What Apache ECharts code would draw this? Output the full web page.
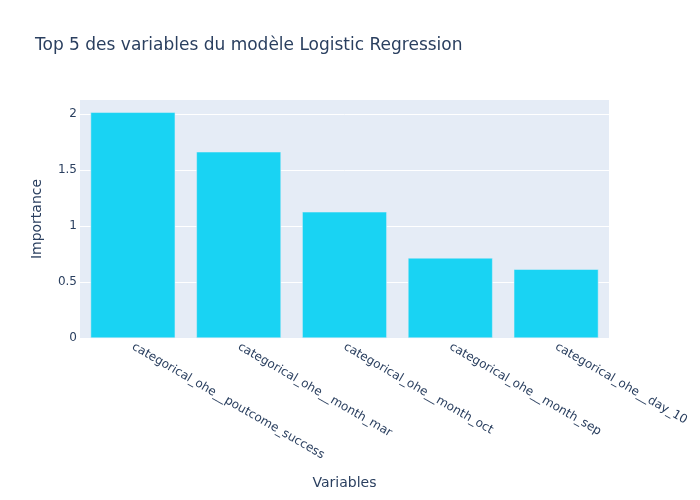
<!DOCTYPE html>
<html>
<head>
<meta charset="utf-8">
<script src="https://cdn.jsdelivr.net/npm/echarts@6/dist/echarts.min.js"></script>
<style>html,body{margin:0;padding:0;background:#fff}#c{width:700px;height:500px}</style>
</head>
<body>
<div id="c"></div>
<script>
const categories = ["categorical_ohe__poutcome_success","categorical_ohe__month_mar","categorical_ohe__month_oct","categorical_ohe__month_sep","categorical_ohe__day_10"];
const importance = [2.018, 1.665, 1.128, 0.716, 0.615];
const yTicks = [0, 0.5, 1, 1.5, 2];
const titleText = "Top 5 des variables du modèle Logistic Regression";
const font = '"DejaVu Sans", verdana, arial, sans-serif';
const chart = echarts.init(document.getElementById('c'));
chart.setOption({
  animation: false,
  backgroundColor: '#fff',
  textStyle: {fontFamily: font, color: '#2a3f5f'},
  title: {text: titleText, left: 30, top: 32, textStyle: {fontFamily: font, fontSize: 17, fontWeight: 'normal', color: '#2a3f5f'}},
  grid: {left: 80, right: 91, top: 100, bottom: 162, show: true, backgroundColor: '#E5ECF6', borderWidth: 0, containLabel: false},
  xAxis: {
    type: 'category', data: categories,
    name: 'Variables', nameLocation: 'middle', nameGap: 138,
    nameTextStyle: {fontFamily: font, fontSize: 14, color: '#2a3f5f'},
    axisLine: {show: false}, axisTick: {show: false},
    axisLabel: {rotate: -30, interval: 0, margin: 8, fontSize: 12, color: '#2a3f5f', fontFamily: font}
  },
  yAxis: {
    type: 'value', min: 0, max: 2.128, interval: 0.5,
    name: 'Importance', nameLocation: 'middle', nameGap: 36,
    nameTextStyle: {fontFamily: font, fontSize: 14, color: '#2a3f5f'},
    axisLine: {show: false}, axisTick: {show: false},
    axisLabel: {fontSize: 12, color: '#2a3f5f', fontFamily: font, margin: 3, showMaxLabel: false,
      formatter: v => yTicks.includes(v) ? String(v) : ''},
    splitLine: {show: true, showMaxLine: false, lineStyle: {color: '#ffffff', width: 1}}
  },
  series: [{
    type: 'bar', data: importance, barCategoryGap: '20%',
    itemStyle: {color: '#19D3F3', borderColor: '#E5ECF6', borderWidth: 0.5}
  }]
});
</script>
</body>
</html>
